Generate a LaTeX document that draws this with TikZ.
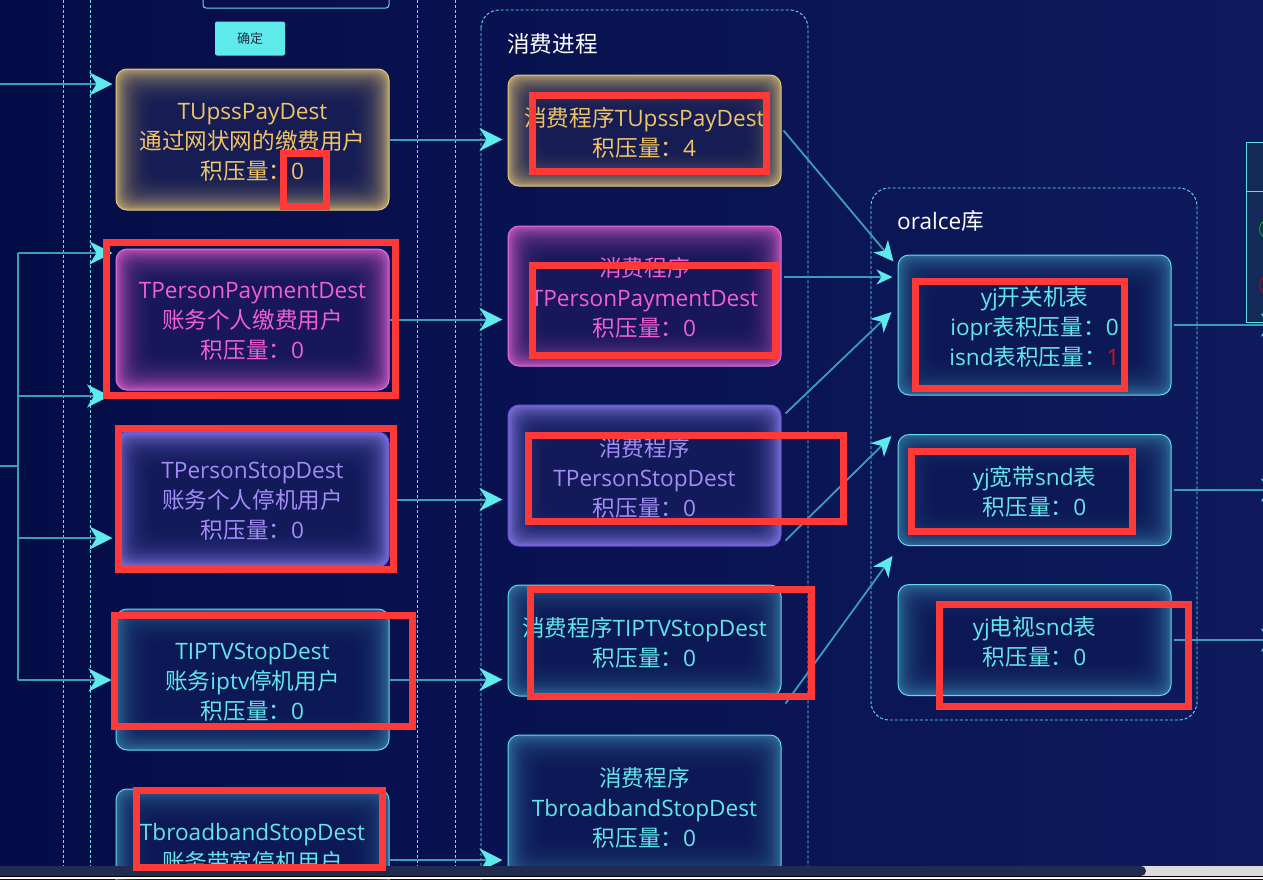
\documentclass[tikz,border=0pt]{standalone}
\usepackage{fontspec}
\setmainfont{Open Sans}
\newfontfamily\cjk{Noto Sans CJK SC}
\usetikzlibrary{arrows.meta,calc}
\definecolor{bgL}{HTML}{050D48}
\definecolor{bgR}{HTML}{0E1A5C}
\definecolor{boxbg}{HTML}{0D1654}
\definecolor{lnc}{HTML}{3A9EB8}
\definecolor{tipc}{HTML}{5EEAEA}
\definecolor{dashc}{HTML}{6AE0F0}
\definecolor{goldT}{HTML}{F0C466}
\definecolor{goldB}{HTML}{E6C874}
\definecolor{goldG}{HTML}{A8946A}
\definecolor{pinkT}{HTML}{F25FD2}
\definecolor{pinkB}{HTML}{E070E0}
\definecolor{pinkG}{HTML}{B04CB4}
\definecolor{purT}{HTML}{A48CF6}
\definecolor{purB}{HTML}{6A4EE0}
\definecolor{purG}{HTML}{7068CC}
\definecolor{cyT}{HTML}{62E6EA}
\definecolor{cyB}{HTML}{62DCE8}
\definecolor{cyG}{HTML}{2C6494}
\definecolor{redA}{HTML}{FF3838}
\definecolor{redN}{HTML}{E01010}
\definecolor{btnT}{HTML}{1E3240}
\definecolor{panelc}{HTML}{132A58}
\definecolor{scrollc}{HTML}{1F2C50}
\definecolor{trackc}{HTML}{DCDCDC}
\newcommand\zh[1]{{\cjk #1}}
\tikzset{
  glow/.style={path picture={
    \fill[#1] (path picture bounding box.south west) rectangle (path picture bounding box.north east);
    \foreach \d in {1,...,18}{
      \fill[boxbg, fill opacity=0.13, rounded corners=12pt]
        ([shift={(\d*1.9pt,\d*1.9pt)}]path picture bounding box.south west) rectangle
        ([shift={(-\d*1.9pt,-\d*1.9pt)}]path picture bounding box.north east);
    }}},
  box/.style={rounded corners=11pt, inner sep=0pt, line width=1pt, minimum width=273pt},
  goldbox/.style={box, draw=goldB, glow=goldG},
  pinkbox/.style={box, draw=pinkB, glow=pinkG},
  purbox/.style={box, draw=purB, glow=purG},
  cybox/.style={box, draw=cyB, glow=cyG},
  lbl/.style={inner sep=0pt, align=center, font=\fontsize{22.6}{30}\selectfont},
  arr/.style={draw=lnc, line width=2pt, -{Stealth[length=23pt,width=23pt,inset=7pt,color=tipc]}},
  arrs/.style={draw=lnc, line width=1.8pt, -{Stealth[length=20pt,width=19pt,inset=6pt,color=tipc]}},
  arrh/.style={draw=lnc, line width=2pt, -{Stealth[length=16pt,width=15pt,inset=5pt,color=tipc]}},
  plain/.style={draw=lnc, line width=2pt},
  dashln/.style={draw=dashc, line width=0.9pt, dash pattern=on 3pt off 2pt},
  note/.style={draw=redA, line width=7pt},
  titlet/.style={text=white, font=\fontsize{22.6}{26}\selectfont, inner sep=0pt, anchor=west},
}
\begin{document}
\begin{tikzpicture}[x=1pt,y=-1pt]
\useasboundingbox (0,0) rectangle (1263,879);
\begin{scope}
\clip (0,0) rectangle (1263,879);
\shade[left color=bgL, right color=bgR] (0,0) rectangle (1263,879);

% dashed guides and containers
\foreach \x in {63,90,417,455} \draw[dashln] (\x,-5) -- (\x,885);
\draw[dashln, rounded corners=18pt] (481,10) rectangle (808,920);
\draw[dashln, rounded corners=18pt] (871,188) rectangle (1197,720);

% top input and button
\node[draw=cyB, line width=1pt, rounded corners=3pt, minimum width=186pt, minimum height=20pt, inner sep=0pt] (inp) at (296,-2) {};
\node[fill=tipc, rounded corners=2pt, minimum width=70pt, minimum height=34pt, inner sep=0pt,
  text=btnT, font=\cjk\fontsize{13}{13}\selectfont] (ok) at (250,38.5) {确定};

% titles
\node[titlet] (t1) at (507,44) {\zh{消费进程}};
\node[titlet] (t2) at (897,221) {oralce\zh{库}};

% left column boxes
\node[goldbox, minimum height=141pt] (u1) at (252.5,139.5) {};
\node[pinkbox, minimum height=141pt] (u2) at (252.5,319.5) {};
\node[purbox, minimum height=135pt] (u3) at (252.5,499.5) {};
\node[cybox, minimum height=141pt] (u4) at (252.5,679.5) {};
\node[cybox, minimum height=142pt] (u5) at (252.5,860) {};
\node[lbl, text=goldT] (u1t) at ($(u1)+(0,2.5)$) {TUpssPayDest\\\zh{通过网状网的缴费用户}\\\zh{积压量：}0};
\node[lbl, text=pinkT] (u2t) at ($(u2)+(0,1.5)$) {TPersonPaymentDest\\\zh{账务个人缴费用户}\\\zh{积压量：}0};
\node[lbl, text=purT] (u3t) at ($(u3)+(0,1.5)$) {TPersonStopDest\\\zh{账务个人停机用户}\\\zh{积压量：}0};
\node[lbl, text=cyT] (u4t) at ($(u4)+(0,2.5)$) {TIPTVStopDest\\\zh{账务}iptv\zh{停机用户}\\\zh{积压量：}0};
\node[lbl, text=cyT] (u5t) at ($(u5)+(0,-12)$) {TbroadbandStopDest\\\zh{账务带宽停机用户}};

% consumer column
\node[goldbox, minimum height=111pt] (c1) at (644.5,130.5) {};
\node[pinkbox, minimum height=140pt] (c2) at (644.5,296) {};
\node[purbox, minimum height=141pt] (c3) at (644.5,475.5) {};
\node[cybox, minimum height=111pt] (c4) at (644.5,640.5) {};
\node[cybox, minimum height=141pt] (c5) at (644.5,805.5) {};
\node[lbl, text=goldT] (c1t) at ($(c1)+(0,2)$) {\zh{消费程序}TUpssPayDest\\\zh{积压量：}4};
\node[lbl, text=pinkT] (c2t) at ($(c2)+(0,2)$) {\zh{消费程序}\\TPersonPaymentDest\\\zh{积压量：}0};
\node[lbl, text=purT] (c3t) at ($(c3)+(0,2)$) {\zh{消费程序}\\TPersonStopDest\\\zh{积压量：}0};
\node[lbl, text=cyT] (c4t) at ($(c4)+(0,2)$) {\zh{消费程序}TIPTVStopDest\\\zh{积压量：}0};
\node[lbl, text=cyT] (c5t) at ($(c5)+(0,2)$) {\zh{消费程序}\\TbroadbandStopDest\\\zh{积压量：}0};

% oracle column
\node[cybox, minimum height=140pt] (o1) at (1034.5,325) {};
\node[cybox, minimum height=111pt] (o2) at (1034.5,490) {};
\node[cybox, minimum height=111pt] (o3) at (1034.5,640) {};
\node[lbl, text=cyT] (o1t) at ($(o1)+(0,2)$) {yj\zh{开关机表}\\iopr\zh{表积压量：}0\\isnd\zh{表积压量：}\textcolor{redN}{1}};
\node[lbl, text=cyT] (o2t) at ($(o2)+(0,2)$) {yj\zh{宽带}snd\zh{表}\\\zh{积压量：}0};
\node[lbl, text=cyT] (o3t) at ($(o3)+(0,2)$) {yj\zh{电视}snd\zh{表}\\\zh{积压量：}0};

% right panel (partly visible)
\node[draw=cyB, fill=panelc, line width=1pt, minimum width=50pt, minimum height=180pt, inner sep=0pt, anchor=north west] (pan) at (1246,142) {};
\draw[cyB, line width=1pt] (1246,191) -- (1300,191);
\draw[green!70!black, line width=1pt] (1269,229) circle (9.5pt);
\draw[red!80!black, line width=1pt] (1269,285) circle (9.5pt);

% input connectors
\coordinate (in1) at (0,84);
\coordinate (in2) at (0,466);
\coordinate (tr) at (18,466);
\coordinate (b1) at (18,253);
\coordinate (b2) at (18,396);
\coordinate (b3) at (18,538);
\coordinate (b4) at (18,680);
\coordinate (g2) at (110,396);
\draw[arr, shorten >=3pt] (in1) -- (u1.west |- in1);
\draw[plain] (in2) -- (tr);
\draw[plain] (b1) -- (b4);
\draw[arr, shorten >=3pt] (b1) -- (u2.west |- b1);
\draw[arr] (b2) -- (g2);
\draw[arr, shorten >=3pt] (b3) -- (u3.west |- b3);
\draw[arr, shorten >=4pt] (b4) -- (u4.west |- b4);

% left -> consumer
\draw[arr, shorten >=5pt] (u1.east) -- (c1.west |- u1.east);
\draw[arr, shorten >=5pt] (u2.east) -- (c2.west |- u2.east);
\draw[arr, shorten >=5pt] (u3.east) -- (c3.west |- u3.east);
\draw[arr, shorten >=5pt] (u4.east) -- (c4.west |- u4.east);
\draw[arr, shorten >=5pt] (u5.east) -- (c5.west |- u5.east);

% consumer -> oracle
\draw[arrs] ($(c1.east)+(2,0)$) -- ($(o1.north west)+(-4,7)$);
\draw[arrh] ($(c2.east)+(2,-19)$) -- ($(o1.west)+(-5,-48)$);
\draw[arrs] ($(c3.north east)+(4,9)$) -- ($(o1.west)+(-6,-13)$);
\draw[arrs] ($(c3.south east)+(4,-6)$) -- ($(o2.north west)+(-6,2)$);
\draw[arrs] ($(c4.south east)+(4,7)$) -- ($(o3.north west)+(-5,-28)$);

% oracle -> right
\coordinate (r1) at (1284,325);
\coordinate (r2) at (1284,490);
\coordinate (r3) at (1284,640);
\draw[arr] ($(o1.east)+(2,0)$) -- (r1);
\draw[arr] ($(o2.east)+(2,0)$) -- (r2);
\draw[arr] ($(o3.east)+(2,0)$) -- (r3);

% scrollbar
\fill[scrollc] (0,866) rectangle (1263,876);
\fill[trackc] (1140,866) rectangle (1263,876);
\fill[scrollc, rounded corners=5pt] (-10,866) rectangle (1146,876);
\fill[black] (0,876) rectangle (1263,877.2);
\fill[pink!15] (0,877.2) rectangle (1263,879);

% red annotations
\draw[note] (283.5,153.5) rectangle (326.5,206.5);
\draw[note] (106.5,242.5) rectangle (395.5,395.5);
\draw[note] (118.5,428.5) rectangle (393.5,569.5);
\draw[note] (114.5,615.5) rectangle (412.5,726.5);
\draw[note] (136.5,790.5) rectangle (382.5,867.5);
\draw[note] (532.5,95.5) rectangle (766.5,171.5);
\draw[note] (532.5,265.5) rectangle (775.5,355.5);
\draw[note] (528.5,435.5) rectangle (843.5,521.5);
\draw[note] (530.5,589.5) rectangle (811.5,696.5);
\draw[note] (915.5,281.5) rectangle (1124.5,388.5);
\draw[note] (911.5,451.5) rectangle (1132.5,531.5);
\draw[note] (939.5,604.5) rectangle (1188.5,706.5);
\end{scope}
\end{tikzpicture}
\end{document}
